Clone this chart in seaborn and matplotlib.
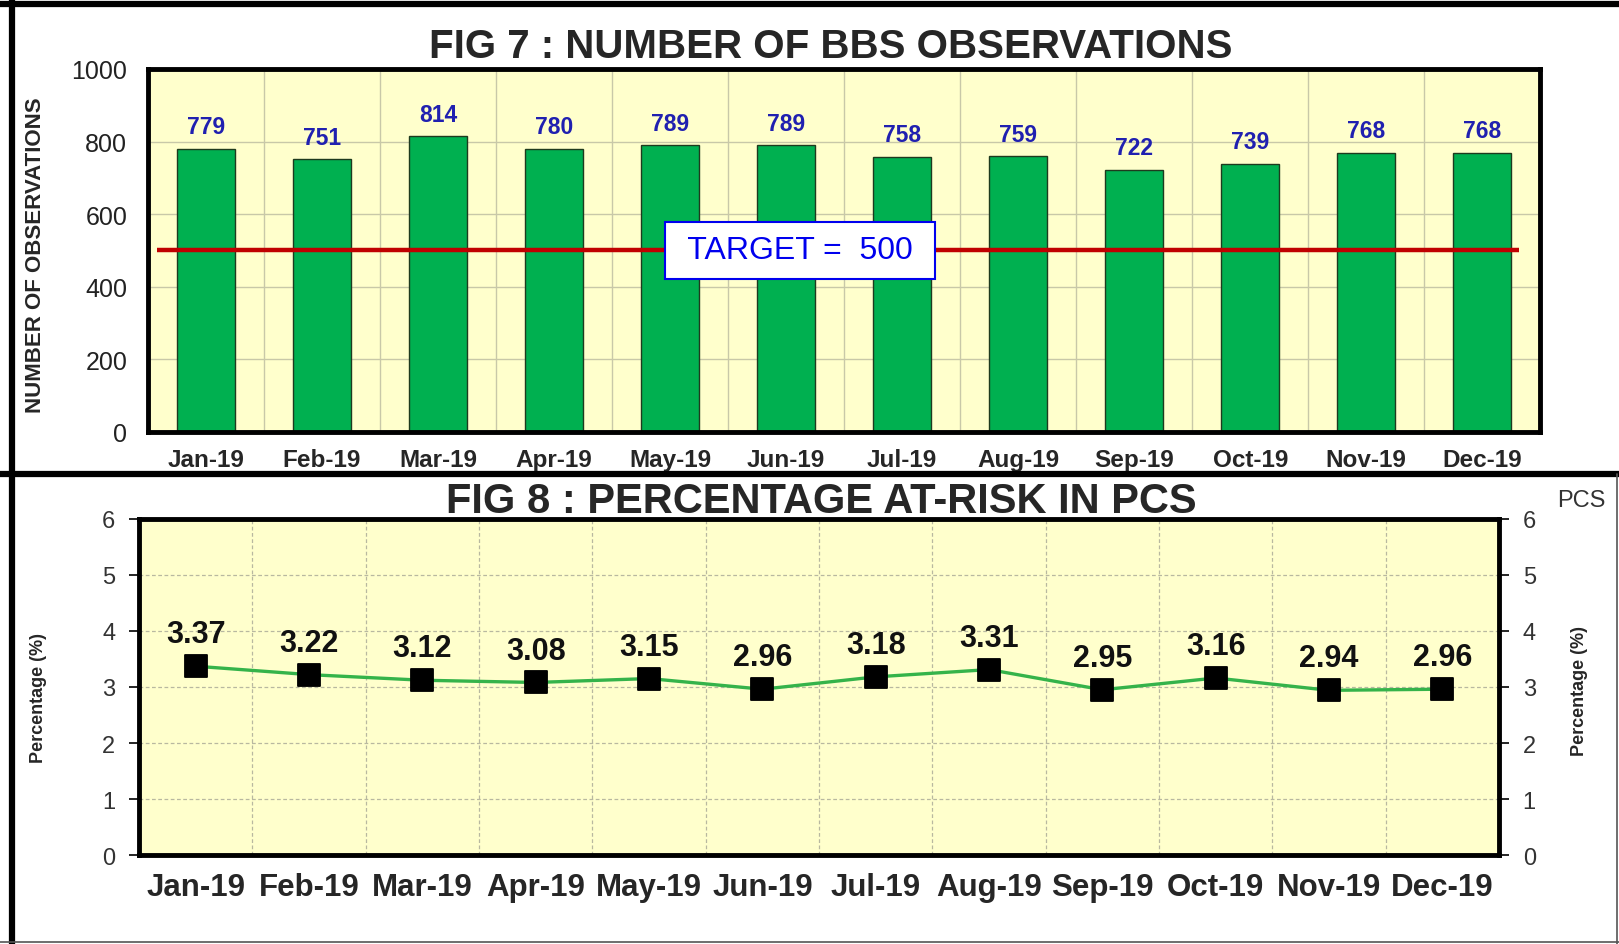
import matplotlib
matplotlib.use("Agg")
import matplotlib.pyplot as plt
from matplotlib.lines import Line2D
from matplotlib.ticker import FixedLocator, MultipleLocator
import numpy as np
import seaborn as sns

# data
months = ["Jan-19", "Feb-19", "Mar-19", "Apr-19", "May-19", "Jun-19",
          "Jul-19", "Aug-19", "Sep-19", "Oct-19", "Nov-19", "Dec-19"]
bbs_counts = [779, 751, 814, 780, 789, 789, 758, 759, 722, 739, 768, 768]
target = 500
pct_at_risk = [3.37, 3.22, 3.12, 3.08, 3.15, 2.96, 3.18, 3.31, 2.95, 3.16, 2.94, 2.96]

sns.set_style("white")
plt.rcParams["font.family"] = ["Liberation Sans", "DejaVu Sans"]

bg = "#FFFFCC"
green = "#00B050"
blue_lbl = "#2020B0"

fig = plt.figure(figsize=(16.19, 9.45), dpi=100)
fig.patch.set_facecolor("white")

# ---------- FIG 7 : bars ----------
ax1 = fig.add_axes([0.0914, 0.542, 0.860, 0.384])
ax1.set_facecolor(bg)
sns.barplot(x=months, y=bbs_counts, color=green, saturation=1, width=0.5,
            edgecolor="#1E3A1E", linewidth=1, ax=ax1, zorder=2)
ax1.set_xlim(-0.5, 11.5)
ax1.set_ylim(0, 1000)
ax1.yaxis.set_major_locator(MultipleLocator(200))
ax1.xaxis.set_minor_locator(FixedLocator(np.arange(-0.5, 12, 1)))
ax1.grid(axis="y", which="major", color="#C8C8A8", lw=1, zorder=0)
ax1.grid(axis="x", which="minor", color="#C8C8A8", lw=1, zorder=0)
ax1.set_axisbelow(True)
ax1.tick_params(axis="x", which="major", length=0, pad=12, labelsize=17.5)
ax1.tick_params(axis="x", which="minor", length=7, width=1.2, direction="out", color="black")
ax1.tick_params(axis="y", length=7, width=1.2, direction="out", color="black",
                pad=8, labelsize=18, labelcolor="#222222")
for lab in ax1.get_xticklabels():
    lab.set_fontweight("bold")
for s in ax1.spines.values():
    s.set_linewidth(3.5)
    s.set_color("black")
ax1.set_xlabel("")
ax1.set_ylabel("NUMBER OF OBSERVATIONS", fontsize=16, fontweight="bold")
ax1.yaxis.set_label_coords(-0.073, 0.49)

for i, v in enumerate(bbs_counts):
    ax1.annotate(str(v), (i, v), xytext=(0, 16), textcoords="offset points",
                 ha="center", va="center", fontsize=16.5, fontweight="bold",
                 color=blue_lbl)

ax1.hlines(target, -0.42, 11.32, color="#C00000", lw=3.2, zorder=3)
ax1.text(5.12, target, " TARGET =  " + str(target) + " ", ha="center", va="center",
         fontsize=23, color="#0000EE", zorder=5,
         bbox=dict(boxstyle="square,pad=0.42", fc="white", ec="#0000EE", lw=1.5))

fig.text(0.513, 0.950, "FIG 7 : NUMBER OF BBS OBSERVATIONS", ha="center",
         va="center", fontsize=29, fontweight="bold")

# ---------- FIG 8 : line ----------
ax2 = fig.add_axes([0.0859, 0.094, 0.840, 0.356])
ax2.set_facecolor(bg)
sns.lineplot(x=months, y=pct_at_risk, sort=False, color="#35B34A", lw=2.4,
             ax=ax2, zorder=3)
sns.scatterplot(x=months, y=pct_at_risk, marker="s", s=270, color="black",
                edgecolor="black", ax=ax2, zorder=4)
ax2.set_xlim(-0.5, 11.5)
ax2.set_ylim(0, 6)
ax2.yaxis.set_major_locator(MultipleLocator(1))
ax2.xaxis.set_minor_locator(FixedLocator(np.arange(-0.5, 12, 1)))
ax2.grid(axis="y", which="major", color="#B8B8A0", lw=0.9, ls=(0, (3, 2)), zorder=0)
ax2.grid(axis="x", which="minor", color="#B8B8A0", lw=0.9, ls=(0, (3, 2)), zorder=0)
ax2.set_axisbelow(True)
ax2.tick_params(axis="x", which="major", length=0, pad=12, labelsize=22.5)
ax2.tick_params(axis="x", which="minor", length=7, width=1.2, direction="out", color="black")
ax2.tick_params(axis="y", length=7, width=1.2, direction="out", color="black",
                pad=10, labelsize=17, labelcolor="#333333")
for lab in ax2.get_xticklabels():
    lab.set_fontweight("bold")
for s in ax2.spines.values():
    s.set_linewidth(3.5)
    s.set_color("black")
ax2.set_xlabel("")
ax2.set_ylabel("Percentage (%)", fontsize=13, fontweight="bold")
ax2.yaxis.set_label_coords(-0.068, 0.47)

for i, v in enumerate(pct_at_risk):
    ax2.annotate(f"{v:.2f}", (i, v), xytext=(0, 23), textcoords="offset points",
                 ha="center", va="center", fontsize=22, fontweight="bold",
                 color="#111111")

ax2r = ax2.twinx()
ax2r.set_ylim(0, 6)
ax2r.yaxis.set_major_locator(MultipleLocator(1))
ax2r.tick_params(axis="y", length=7, width=1.2, direction="out", color="black",
                 pad=10, labelsize=17, labelcolor="#333333")
for s in ax2r.spines.values():
    s.set_visible(False)
ax2r.set_ylabel("Percentage (%)", fontsize=13, fontweight="bold")
ax2r.yaxis.set_label_coords(1.053, 0.49)

fig.text(0.507, 0.469, "FIG 8 : PERCENTAGE AT-RISK IN PCS", ha="center",
         va="center", fontsize=30, fontweight="bold")
fig.text(0.9765, 0.470, "PCS", ha="center", va="center", fontsize=17,
         color="#333333")

# panel frames
fig.add_artist(Line2D([0.0, 1.0], [0.995, 0.995], color="black", lw=4.5))
fig.add_artist(Line2D([0.0074, 0.0074], [0.0, 1.0], color="black", lw=4.5))
fig.add_artist(Line2D([0.0, 1.0], [0.497, 0.497], color="black", lw=4.5))
fig.add_artist(Line2D([0.0, 1.0], [0.002, 0.002], color="#555555", lw=1.2))
fig.add_artist(Line2D([0.9988, 0.9988], [0.0, 0.497], color="#555555", lw=1.2))

fig.savefig("out.png", dpi=100, facecolor="white")
